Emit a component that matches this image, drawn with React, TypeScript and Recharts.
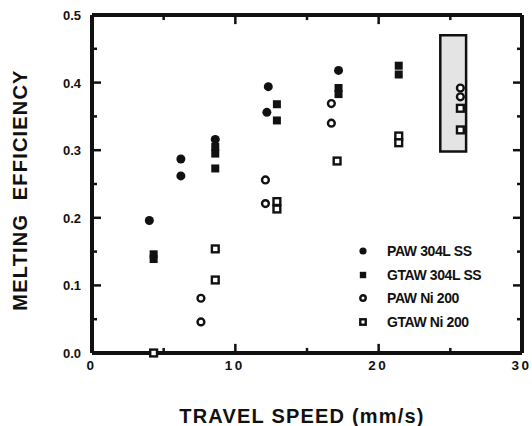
import { ScatterChart, Scatter, XAxis, YAxis, ReferenceArea, ReferenceLine, Legend, Label } from "recharts";

// travel speed (mm/s) vs melting efficiency
const paw304: { x: number; y: number }[] = [
    { x: 4.0, y: 0.196 },
    { x: 6.2, y: 0.287 },
    { x: 6.2, y: 0.262 },
    { x: 8.6, y: 0.316 },
    { x: 12.3, y: 0.394 },
    { x: 12.2, y: 0.356 },
    { x: 17.2, y: 0.418 },
];

const gtaw304: { x: number; y: number }[] = [
    { x: 4.3, y: 0.146 },
    { x: 4.3, y: 0.139 },
    { x: 8.6, y: 0.305 },
    { x: 8.6, y: 0.295 },
    { x: 8.6, y: 0.273 },
    { x: 12.9, y: 0.368 },
    { x: 12.9, y: 0.344 },
    { x: 17.2, y: 0.392 },
    { x: 17.2, y: 0.383 },
    { x: 21.4, y: 0.425 },
    { x: 21.4, y: 0.412 },
];

const pawNi: { x: number; y: number }[] = [
    { x: 7.6, y: 0.081 },
    { x: 7.6, y: 0.046 },
    { x: 12.1, y: 0.256 },
    { x: 12.1, y: 0.221 },
    { x: 16.7, y: 0.369 },
    { x: 16.7, y: 0.34 },
    { x: 25.7, y: 0.392 },
    { x: 25.7, y: 0.379 },
];

const gtawNi: { x: number; y: number }[] = [
    { x: 4.3, y: 0.0 },
    { x: 8.6, y: 0.154 },
    { x: 8.6, y: 0.108 },
    { x: 12.9, y: 0.224 },
    { x: 12.9, y: 0.213 },
    { x: 17.1, y: 0.284 },
    { x: 21.4, y: 0.321 },
    { x: 21.4, y: 0.311 },
    { x: 25.7, y: 0.362 },
    { x: 25.7, y: 0.33 },
];

// the shaded box around the 25.7 mm/s points
const boxX = [24.3, 26.1];
const boxY = [0.298, 0.47];

const xDomain = [0, 30];
const yDomain = [0, 0.5];
const xTicks = [0, 5, 10, 15, 20, 25, 30];
const yTicks = [0, 0.05, 0.1, 0.15, 0.2, 0.25, 0.3, 0.35, 0.4, 0.45, 0.5];

const legendItems = [
    { name: "PAW 304L SS", kind: "fcircle" },
    { name: "GTAW 304L SS", kind: "fsquare" },
    { name: "PAW Ni 200", kind: "ocircle" },
    { name: "GTAW Ni 200", kind: "osquare" },
];

const INK = "#111";
const FONT = "'Liberation Sans', Arial, sans-serif";

// inward tick lengths in axis units (~9px major, ~5px minor)
const X_TICK_MAJOR = 0.0135;
const X_TICK_MINOR = 0.0075;
const Y_TICK_MAJOR = 0.63;
const Y_TICK_MINOR = 0.35;

function marker(kind: string, cx: number, cy: number, s = 1) {
    if (kind === "fcircle") return <circle cx={cx} cy={cy} r={4.5 * s} fill={INK} />;
    if (kind === "fsquare") return <rect x={cx - 4 * s} y={cy - 4 * s} width={8 * s} height={8 * s} fill={INK} />;
    if (kind === "ocircle") return <circle cx={cx} cy={cy} r={3.4 * s} fill="#fff" stroke={INK} strokeWidth={2.4} />;
    return <rect x={cx - 3.4 * s} y={cy - 3.4 * s} width={6.8 * s} height={6.8 * s} fill="#fff" stroke={INK} strokeWidth={2.4} />;
}

const shapeFor = (kind: string) => (p: any) => marker(kind, Number(p.cx), Number(p.cy));

const isMajorX = (v: number) => v % 10 === 0;
const isMajorY = (v: number) => Math.abs(v * 10 - Math.round(v * 10)) < 1e-6;

function BottomTick(props: any) {
    const v = props.payload.value;
    if (!isMajorX(v)) return <g />;
    return (
        <text x={Number(props.x) - 0.5} y={Number(props.y) + 17} textAnchor="middle" fontFamily={FONT} fontWeight="bold" fontSize={13.5} letterSpacing={2.5} fill={INK}>
            {v}
        </text>
    );
}

function LeftTick(props: any) {
    const v = props.payload.value;
    if (!isMajorY(v)) return <g />;
    return (
        <text x={Number(props.x) - 11} y={Number(props.y) + 5} textAnchor="end" fontFamily={FONT} fontWeight="bold" fontSize={13} fill={INK}>
            {v.toFixed(1)}
        </text>
    );
}

function LegendBox() {
    return (
        <div style={{ fontFamily: FONT, fontWeight: "bold", fontSize: 14, color: INK, letterSpacing: -0.4 }}>
            {legendItems.map((it) => (
                <div key={it.name} style={{ display: "flex", alignItems: "center", height: 23.7 }}>
                    <svg width={16} height={14} style={{ marginRight: 16 }}>
                        {marker(it.kind, 8, 7, 0.8)}
                    </svg>
                    <span>{it.name}</span>
                </div>
            ))}
        </div>
    );
}

export default function App() {
    const [x0, x1] = xDomain;
    const [y0, y1] = yDomain;
    return (
        <div style={{ position: "absolute", left: 0, top: 0, background: "#fff" }}>
            <ScatterChart width={532} height={426} margin={{ top: 15, right: 10, bottom: 0, left: 0 }}>
                <XAxis
                    type="number"
                    dataKey="x"
                    domain={xDomain}
                    ticks={xTicks}
                    height={73}
                    tickSize={0}
                    tickMargin={0}
                    tickLine={false}
                    tick={<BottomTick />}
                    axisLine={{ stroke: INK, strokeWidth: 4 }}
                    interval={0}
                >
                    <Label
                        content={({ viewBox }: any) => (
                            <text
                                x={viewBox.x + viewBox.width / 2 - 5}
                                y={viewBox.y + 70}
                                textAnchor="middle"
                                fontFamily={FONT}
                                fontWeight="bold"
                                fontSize={20}
                                letterSpacing={1.2}
                                fill={INK}
                            >
                                TRAVEL SPEED (mm/s)
                            </text>
                        )}
                    />
                </XAxis>
                <YAxis
                    type="number"
                    dataKey="y"
                    domain={yDomain}
                    ticks={yTicks}
                    width={92}
                    tickSize={0}
                    tickMargin={0}
                    tickLine={false}
                    tick={<LeftTick />}
                    axisLine={{ stroke: INK, strokeWidth: 4 }}
                    interval={0}
                >
                    <Label
                        content={({ viewBox }: any) => {
                            const cx = viewBox.x + 20;
                            const cy = viewBox.y + viewBox.height / 2 + 6;
                            return (
                                <text
                                    x={cx}
                                    y={cy}
                                    transform={`rotate(-90 ${cx} ${cy})`}
                                    textAnchor="middle"
                                    dominantBaseline="central"
                                    fontFamily={FONT}
                                    fontWeight="bold"
                                    fontSize={20}
                                    letterSpacing={1.2}
                                    fill={INK}
                                    style={{ whiteSpace: "pre" }}
                                >
                                    {"MELTING  EFFICIENCY"}
                                </text>
                            );
                        }}
                    />
                </YAxis>
                {/* plot frame */}
                <ReferenceLine y={y0} stroke={INK} strokeWidth={4} ifOverflow="visible" />
                <ReferenceLine x={x0} stroke={INK} strokeWidth={4} ifOverflow="visible" />
                <ReferenceLine y={y1} stroke={INK} strokeWidth={4} ifOverflow="visible" />
                <ReferenceLine x={x1} stroke={INK} strokeWidth={4} ifOverflow="visible" />
                {/* inward ticks on all four sides */}
                {xTicks.map((t) => {
                    const len = isMajorX(t) ? X_TICK_MAJOR : X_TICK_MINOR;
                    return [
                        <ReferenceLine key={`xb${t}`} segment={[{ x: t, y: y0 }, { x: t, y: y0 + len }]} stroke={INK} strokeWidth={2.5} ifOverflow="visible" />,
                        <ReferenceLine key={`xt${t}`} segment={[{ x: t, y: y1 }, { x: t, y: y1 - len }]} stroke={INK} strokeWidth={2.5} ifOverflow="visible" />,
                    ];
                })}
                {yTicks.map((t) => {
                    const len = isMajorY(t) ? Y_TICK_MAJOR : Y_TICK_MINOR;
                    return [
                        <ReferenceLine key={`yl${t}`} segment={[{ x: x0, y: t }, { x: x0 + len, y: t }]} stroke={INK} strokeWidth={2.5} ifOverflow="visible" />,
                        <ReferenceLine key={`yr${t}`} segment={[{ x: x1, y: t }, { x: x1 - len, y: t }]} stroke={INK} strokeWidth={2.5} ifOverflow="visible" />,
                    ];
                })}
                <ReferenceArea
                    x1={boxX[0]}
                    x2={boxX[1]}
                    y1={boxY[0]}
                    y2={boxY[1]}
                    fill="#e4e4e4"
                    fillOpacity={1}
                    stroke={INK}
                    strokeWidth={2.5}
                />
                <Scatter name="PAW 304L SS" data={paw304} shape={shapeFor("fcircle")} isAnimationActive={false} />
                <Scatter name="GTAW 304L SS" data={gtaw304} shape={shapeFor("fsquare")} isAnimationActive={false} />
                <Scatter name="PAW Ni 200" data={pawNi} shape={shapeFor("ocircle")} isAnimationActive={false} />
                <Scatter name="GTAW Ni 200" data={gtawNi} shape={shapeFor("osquare")} isAnimationActive={false} />
                <Legend
                    layout="vertical"
                    align="center"
                    verticalAlign="middle"
                    content={<LegendBox />}
                    wrapperStyle={{ left: 355, top: 239, width: 170 }}
                />
            </ScatterChart>
        </div>
    );
}
